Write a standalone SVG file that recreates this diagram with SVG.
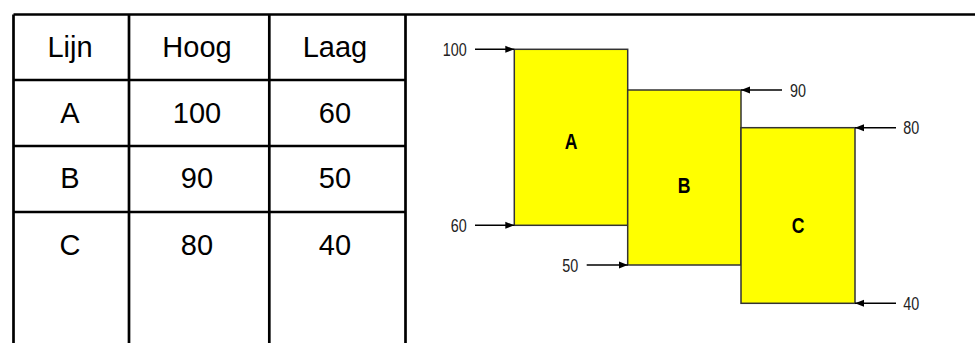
<svg xmlns="http://www.w3.org/2000/svg" width="975" height="343" viewBox="0 0 975 343">
<style>
.grid{stroke:#000;stroke-width:2.7;fill:none}
.cell{font-family:"Liberation Sans",Arial,sans-serif;font-size:29px;fill:#000;text-anchor:middle}
.box{fill:#ffff00;stroke:#333;stroke-width:1.5}
.blabel{font-family:"Liberation Sans",Arial,sans-serif;font-size:21.5px;font-weight:bold;fill:#000;text-anchor:middle}
.val{font-family:"Liberation Sans",Arial,sans-serif;font-size:17.5px;fill:#222}
.arr{stroke:#000;stroke-width:1.5;fill:none;marker-end:url(#ah)}
</style>
<defs>
<marker id="ah" markerUnits="userSpaceOnUse" markerWidth="10" markerHeight="8" refX="9" refY="4" orient="auto">
<path d="M0,0.5 L9,4 L0,7.5 Z" fill="#000"/>
</marker>
</defs>
<rect width="975" height="343" fill="#fff"/>
<g id="table">
<path class="grid" d="M13.5,14.5 H975 M13.5,14.5 V343 M129,14.5 V343 M269.3,14.5 V343 M405.5,14.5 V343 M13.5,80 H405.5 M13.5,146 H405.5 M13.5,212 H405.5"/>
<text class="cell" x="70" y="56.7">Lijn</text>
<text class="cell" x="197" y="56.7">Hoog</text>
<text class="cell" x="335" y="56.7">Laag</text>
<text class="cell" x="70" y="122.7">A</text>
<text class="cell" x="197" y="122.7">100</text>
<text class="cell" x="335" y="122.7">60</text>
<text class="cell" x="70" y="188.3">B</text>
<text class="cell" x="197" y="188.3">90</text>
<text class="cell" x="335" y="188.3">50</text>
<text class="cell" x="70" y="255">C</text>
<text class="cell" x="197" y="255">80</text>
<text class="cell" x="335" y="255">40</text>
</g>
<g id="boxA">
<rect class="box" x="514.3" y="49.3" width="113.4" height="176"/>
<text class="blabel" transform="translate(571,149) scale(0.82,1)">A</text>
</g>
<g id="boxB">
<rect class="box" x="627.7" y="90" width="113.3" height="175"/>
<text class="blabel" transform="translate(684,193.3) scale(0.82,1)">B</text>
</g>
<g id="boxC">
<rect class="box" x="741" y="127.7" width="114" height="175.6"/>
<text class="blabel" transform="translate(798,233.3) scale(0.82,1)">C</text>
</g>
<g id="connectors">
<line class="arr" x1="475" y1="49.3" x2="514.3" y2="49.3"/>
<line class="arr" x1="475" y1="225.3" x2="514.3" y2="225.3"/>
<line class="arr" x1="586.7" y1="265" x2="627.7" y2="265"/>
<line class="arr" x1="782" y1="90" x2="741" y2="90"/>
<line class="arr" x1="896" y1="127.7" x2="855" y2="127.7"/>
<line class="arr" x1="896" y1="303.3" x2="855" y2="303.3"/>
</g>
<g id="values">
<text class="val" text-anchor="end" transform="translate(466.7,56) scale(0.82,1)">100</text>
<text class="val" text-anchor="end" transform="translate(466.7,232) scale(0.82,1)">60</text>
<text class="val" text-anchor="end" transform="translate(578.3,271.5) scale(0.82,1)">50</text>
<text class="val" transform="translate(790,96.5) scale(0.82,1)">90</text>
<text class="val" transform="translate(903.3,134.2) scale(0.82,1)">80</text>
<text class="val" transform="translate(903.3,309.8) scale(0.82,1)">40</text>
</g>
</svg>
